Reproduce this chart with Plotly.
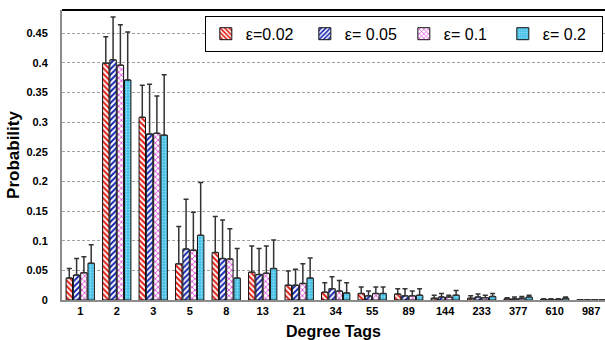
import plotly.graph_objects as go

categories = ["1", "2", "3", "5", "8", "13", "21", "34", "55", "89", "144", "233", "377", "610", "987"]
series_names = ["ε=0.02", "ε= 0.05", "ε= 0.1", "ε= 0.2"]

p_002 = [0.037, 0.399, 0.308, 0.061, 0.080, 0.047, 0.025, 0.013, 0.011, 0.010, 0.003, 0.003, 0.002, 0.001, 0.0004]
p_005 = [0.042, 0.405, 0.280, 0.086, 0.070, 0.043, 0.025, 0.019, 0.007, 0.007, 0.005, 0.005, 0.002, 0.001, 0.0004]
p_01 = [0.046, 0.396, 0.281, 0.084, 0.069, 0.045, 0.028, 0.015, 0.011, 0.007, 0.005, 0.004, 0.003, 0.001, 0.0004]
p_02 = [0.062, 0.371, 0.278, 0.109, 0.037, 0.053, 0.037, 0.012, 0.011, 0.008, 0.008, 0.006, 0.005, 0.003, 0.0004]

e_002 = [0.016, 0.045, 0.054, 0.063, 0.061, 0.044, 0.024, 0.016, 0.011, 0.009, 0.005, 0.004, 0.002, 0.001, 0.0]
e_005 = [0.028, 0.072, 0.084, 0.084, 0.065, 0.044, 0.027, 0.020, 0.008, 0.012, 0.006, 0.005, 0.003, 0.001, 0.0]
e_01 = [0.027, 0.068, 0.063, 0.064, 0.051, 0.046, 0.033, 0.018, 0.011, 0.008, 0.003, 0.004, 0.003, 0.001, 0.0]
e_02 = [0.031, 0.081, 0.102, 0.089, 0.050, 0.048, 0.034, 0.017, 0.011, 0.011, 0.008, 0.005, 0.003, 0.002, 0.0]

y_ticks = [0, 0.05, 0.1, 0.15, 0.2, 0.25, 0.3, 0.35, 0.4, 0.45]
y_ticktext = ["0", "0.05", "0.1", "0.15", "0.2", "0.25", "0.3", "0.35", "0.4", "0.45"]

values = [p_002, p_005, p_01, p_02]
errors = [e_002, e_005, e_01, e_02]
styles = [
    dict(shape="\\", fg="#E01A12", bg="#FFFFFF", size=4, solidity=0.5),
    dict(shape="/", fg="#1424B0", bg="#FFFFFF", size=4, solidity=0.5),
    dict(shape="x", fg="#E050DC", bg="#FFFFFF", size=4, solidity=0.4),
    dict(shape=".", fg="#8FDDF2", bg="#45BFE6", size=3, solidity=0.3),
]

fig = go.Figure()
for name, v, e, s in zip(series_names, values, errors, styles):
    fig.add_trace(go.Bar(
        x=categories, y=v, name=name,
        marker=dict(
            color=s["bg"],
            line=dict(color="#111111", width=1),
            pattern=dict(shape=s["shape"], fgcolor=s["fg"], bgcolor=s["bg"], fgopacity=1,
                         size=s["size"], solidity=s["solidity"], fillmode="overlay"),
        ),
        error_y=dict(type="data", array=e, arrayminus=[0] * len(e), symmetric=False,
                     color="#333333", thickness=1.5, width=2.5),
    ))

fig.update_layout(
    width=605, height=340,
    margin=dict(l=62, r=0, t=10, b=40),
    plot_bgcolor="white", paper_bgcolor="white",
    barmode="group", bargap=0.2, bargroupgap=0.12,
    font=dict(family="Liberation Sans, Arial, sans-serif", color="#000000"),
    showlegend=True,
    legend=dict(
        orientation="h", x=0.996, xanchor="right", y=0.98, yanchor="top",
        bgcolor="white", bordercolor="#000000", borderwidth=1,
        font=dict(size=16, family="Liberation Sans, Arial, sans-serif"),
        entrywidth=54, itemwidth=30, tracegroupgap=0,
    ),
    xaxis=dict(
        type="category", range=[-0.5, 14.38],
        showline=True, linecolor="#8c8c8c", linewidth=2,
        showgrid=False, ticks="",
        tickfont=dict(size=11, family="Liberation Sans, Arial, sans-serif", weight="bold"),
        title=dict(text="<b>Degree Tags</b>", font=dict(size=16), standoff=10),
    ),
    yaxis=dict(
        range=[0, 0.489],
        tickvals=y_ticks, ticktext=y_ticktext,
        showline=True, linecolor="#8c8c8c", linewidth=2,
        showgrid=True, gridcolor="#a0a0a0", gridwidth=1, griddash="3px,2px",
        zeroline=False, ticks="", ticklabelstandoff=10,
        tickfont=dict(size=11, family="Liberation Sans, Arial, sans-serif", weight="bold"),
        title=dict(text="<b>Probability</b>", font=dict(size=17), standoff=2),
    ),
    shapes=[dict(type="line", xref="paper", yref="paper", x0=0, x1=1, y0=1, y1=1,
                 line=dict(color="#000000", width=2))],
)

fig.write_html("out.html")
